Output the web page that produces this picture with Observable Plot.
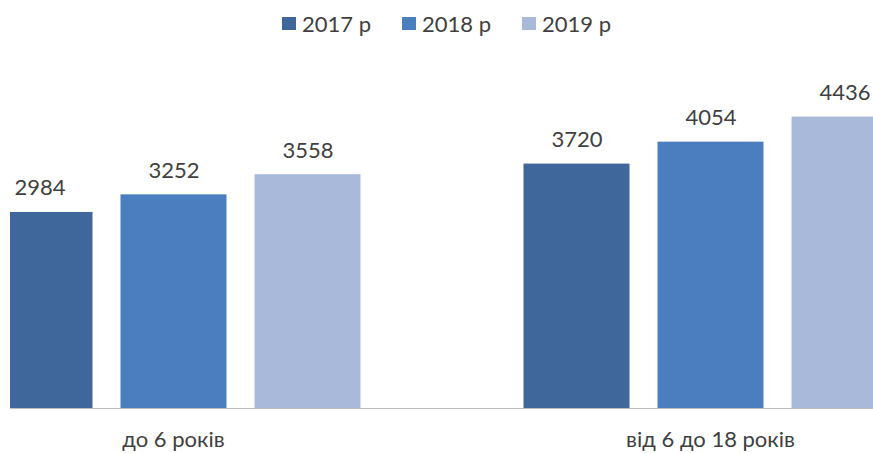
<!DOCTYPE html>
<html>
<head>
<meta charset="utf-8">
<script src="https://cdn.jsdelivr.net/npm/d3@7"></script>
<script src="https://cdn.jsdelivr.net/npm/@observablehq/plot@0.6"></script>
<style>
  html, body { margin: 0; padding: 0; background: #fff; width: 873px; height: 454px; overflow: hidden; }
  #legend { position: absolute; left: 0; top: 0; width: 873px; height: 46px; display: flex; justify-content: center; align-items: center; gap: 31px; font-family: Lato, sans-serif; font-size: 22px; color: #404040; padding-left: 20px; box-sizing: border-box; }
  #legend .item { display: inline-flex; align-items: center; gap: 6px; }
  #legend .sw { width: 14px; height: 13px; display: inline-block; }
  #chart { position: absolute; left: 10px; top: 50px; width: 863px; height: 404px; overflow: hidden; }
  #chart svg { overflow: hidden !important; }
</style>
</head>
<body>
<div id="legend"></div>
<div id="chart"></div>
<script>
const groups = ["до 6 років", "від 6 до 18 років"];
const years = ["2017 р", "2018 р", "2019 р"];
const values2017 = [2984, 3720];
const values2018 = [3252, 4054];
const values2019 = [3558, 4436];
const colors = ["#40679C", "#4A7EBE", "#A8B9D9"];

const series = [values2017, values2018, values2019];
const data = [];
groups.forEach((g, gi) => {
  years.forEach((yr, yi) => data.push({group: g, year: yr, value: series[yi][gi]}));
});

const legend = document.getElementById("legend");
years.forEach((yr, i) => {
  const item = document.createElement("span");
  item.className = "item";
  const sw = document.createElement("span");
  sw.className = "sw";
  sw.style.background = colors[i];
  const t = document.createElement("span");
  t.textContent = yr;
  item.appendChild(sw); item.appendChild(t);
  legend.appendChild(item);
});

const plot = Plot.plot({
  width: 863,
  height: 404,
  marginTop: 29.5,
  marginBottom: 46,
  marginLeft: -105.5,
  marginRight: -105.5,
  style: {fontFamily: "Lato, sans-serif", fontSize: "22px", color: "#404040", background: "transparent"},
  fx: {domain: groups, paddingInner: 0.2514, paddingOuter: 0.1257, axis: "bottom", tickSize: 0, tickPadding: 23, label: null},
  x: {domain: years, paddingInner: 0.209, paddingOuter: 0.1045, axis: null},
  y: {domain: [0, 5000], axis: null},
  color: {domain: years, range: colors},
  marks: [
    Plot.barY(data, {fx: "group", x: "year", y: "value", fill: "year"}),
    Plot.text(data, {fx: "group", x: "year", y: "value", text: d => String(d.value), lineAnchor: "bottom", dy: -17, fontSize: 22, fill: "#404040"}),
    Plot.ruleY([0], {stroke: "#BFBFBF", strokeWidth: 1, insetLeft: -68, insetRight: -68})
  ]
});
document.getElementById("chart").appendChild(plot);
</script>
</body>
</html>
